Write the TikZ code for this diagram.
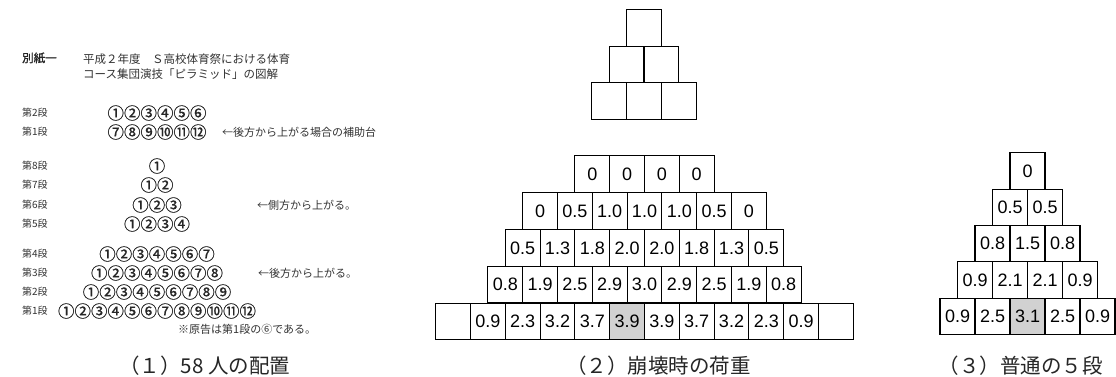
\documentclass[tikz,border=0pt]{standalone}
\usepackage{fontspec}
\newfontfamily\jp{Noto Sans CJK JP}
\newfontfamily\jpc{Noto Sans CJK JP}[FakeBold=0.8]
\newfontfamily\jpbold{Noto Sans CJK JP}[FakeBold=1.5]
\newfontfamily\numf{Liberation Sans}
\begin{document}
\begin{tikzpicture}[x=1pt,y=-1pt,
  box/.style={draw, line width=1.1pt, minimum width=34.8pt, minimum height=36.7pt,
    inner sep=0pt, fill=white, font=\numf\fontsize{18}{18}\selectfont},
  rbox/.style={box, minimum width=35pt, minimum height=36.4pt},
  lbl/.style={anchor=west, inner sep=0pt, text=black!80, font=\jp\fontsize{10}{12}\selectfont},
  note/.style={anchor=west, inner sep=0pt, text=black!80, font=\jp\fontsize{11}{13}\selectfont},
  hdr/.style={anchor=west, inner sep=0pt, text=black!80, font=\jp\fontsize{11.5}{13}\selectfont},
  circ/.style={inner sep=0pt, text=black!85, font=\jpc\fontsize{16.5}{18}\selectfont},
  captext/.style={anchor=base west, inner sep=0pt, text=black!85, font=\jp\fontsize{20.5}{22}\selectfont}]
\path[use as bounding box, fill=white] (0,0) rectangle (1116,376);

% ---------- left panel ----------
\node[anchor=west, inner sep=0pt, text=black!85, font=\jpbold\fontsize{11.5}{13}\selectfont] (h0) at (22,58) {別紙一};
\node[hdr] (h1) at (83,59) {平成２年度　Ｓ高校体育祭における体育};
\node[hdr] (h2) at (83,74) {コース集団演技「ピラミッド」の図解};

\node[lbl] (a2) at (22,113) {第2段};
\node[lbl] (a1) at (22,132) {第1段};
\node[circ] (ca2) at (157,113) {①②③④⑤⑥};
\node[circ] (ca1) at (157,132) {⑦⑧⑨⑩⑪⑫};
\node[note] (na) at (222,132) {←後方から上がる場合の補助台};

\node[lbl] (b8) at (22,166) {第8段};
\node[lbl] (b7) at (22,185) {第7段};
\node[lbl] (b6) at (22,205) {第6段};
\node[lbl] (b5) at (22,224) {第5段};
\node[circ] (cb8) at (157,166) {①};
\node[circ] (cb7) at (157,185) {①②};
\node[circ] (cb6) at (157,205) {①②③};
\node[circ] (cb5) at (157,224) {①②③④};
\node[note] (nb) at (257,205) {←側方から上がる。};

\node[lbl] (c4) at (22,254) {第4段};
\node[lbl] (c3) at (22,273) {第3段};
\node[lbl] (c2) at (22,292) {第2段};
\node[lbl] (c1) at (22,311) {第1段};
\node[circ] (cc4) at (157,254) {①②③④⑤⑥⑦};
\node[circ] (cc3) at (157,273) {①②③④⑤⑥⑦⑧};
\node[circ] (cc2) at (157,292) {①②③④⑤⑥⑦⑧⑨};
\node[circ] (cc1) at (157,311) {①②③④⑤⑥⑦⑧⑨⑩⑪⑫};
\node[note] (nc) at (258,273) {←後方から上がる。};
\node[note] (fn) at (178,329) {※原告は第1段の⑥である。};

\node[captext] (cap1) at (119,373) {（１）58 人の配置};

% ---------- middle pyramid ----------
\node[box] (t1-1) at (644,28.2) {};
\foreach \i in {1,2} \node[box] (t2-\i) at ({644+(\i-1.5)*34.8},64.6) {};
\foreach \i in {1,2,3} \node[box] (t3-\i) at ({644+(\i-2)*34.8},101) {};

\foreach \lab [count=\i] in {0,0,0,0}
  \node[box] (m1-\i) at ({644.5+(\i-2.5)*34.8},174.1) {\lab};
\foreach \lab [count=\i] in {0,0.5,1.0,1.0,1.0,0.5,0}
  \node[box] (m2-\i) at ({644.5+(\i-4)*34.8},210.9) {\lab};
\foreach \lab [count=\i] in {0.5,1.3,1.8,2.0,2.0,1.8,1.3,0.5}
  \node[box] (m3-\i) at ({644.5+(\i-4.5)*34.8},247.8) {\lab};
\foreach \lab [count=\i] in {0.8,1.9,2.5,2.9,3.0,2.9,2.5,1.9,0.8}
  \node[box] (m4-\i) at ({644.5+(\i-5)*34.8},284.6) {\lab};
\foreach \lab/\fil [count=\i] in {{}/white,0.9/white,2.3/white,3.2/white,3.7/white,3.9/black!18,3.9/white,3.7/white,3.2/white,2.3/white,0.9/white,{}/white}
  \node[box, fill=\fil] (m5-\i) at ({644.5+(\i-6.5)*34.8},321.5) {\lab};

\node[captext] (cap2) at (566,373) {（２）崩壊時の荷重};

% ---------- right pyramid ----------
\node[rbox] (r1-1) at (1027.5,170.9) {0};
\foreach \lab [count=\i] in {0.5,0.5}
  \node[rbox] (r2-\i) at ({1027.5+(\i-1.5)*35},207.3) {\lab};
\foreach \lab [count=\i] in {0.8,1.5,0.8}
  \node[rbox] (r3-\i) at ({1027.5+(\i-2)*35},243.7) {\lab};
\foreach \lab [count=\i] in {0.9,2.1,2.1,0.9}
  \node[rbox] (r4-\i) at ({1027.5+(\i-2.5)*35},280.1) {\lab};
\foreach \lab/\fil [count=\i] in {0.9/white,2.5/white,3.1/black!18,2.5/white,0.9/white}
  \node[rbox, fill=\fil] (r5-\i) at ({1027.5+(\i-3)*35},316.5) {\lab};

\node[captext] (cap3) at (938.5,373) {（３）普通の５段};
\end{tikzpicture}
\end{document}
